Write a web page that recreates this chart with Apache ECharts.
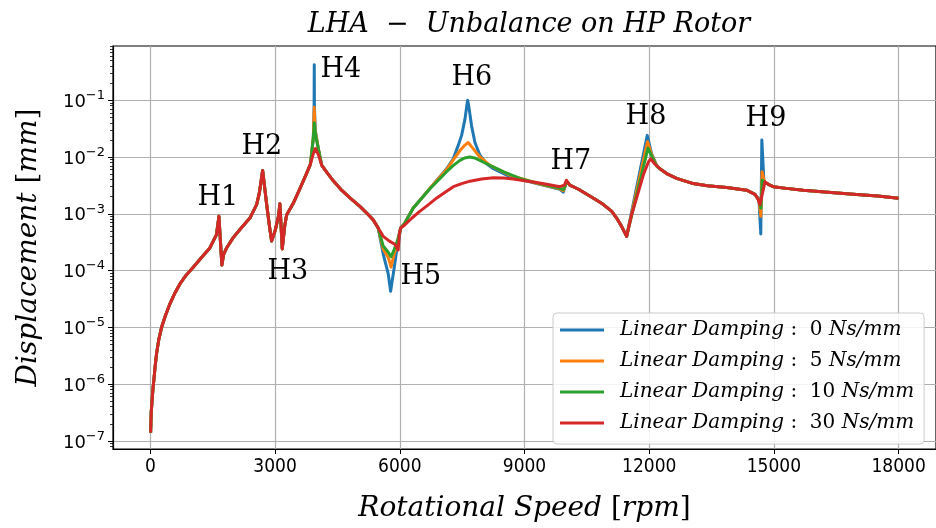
<!DOCTYPE html>
<html><head><meta charset="utf-8">
<script src="https://cdn.jsdelivr.net/npm/echarts@6/dist/echarts.min.js"></script>
<style>html,body{margin:0;padding:0;background:#fff}#c{width:936px;height:528px}</style>
</head><body><div id="c"></div>
<script>
// ---- data (rpm, mm) ----
const seriesNames = ['0', '5', '10', '30'];
const xTicks = [0, 3000, 6000, 9000, 12000, 15000, 18000];
const yTicks = [1e-7, 1e-6, 1e-5, 1e-4, 1e-3, 1e-2, 1e-1];

const startShared = [[5,1.4e-7],[20,3.2e-7],[43,5.5e-7],[62,8.3e-7],[84,1.2e-6],[112,2.0e-6],[149,3.5e-6],[200,6.0e-6],[269,1.0e-5],[360,1.6e-5],[469,2.6e-5],[580,3.9e-5],[710,5.8e-5],[860,8.3e-5],[1030,1.14e-4],[1230,1.7e-4],[1430,2.5e-4],[1590,4.3e-4],[1648,9.0e-4],[1720,1.25e-4],[1760,1.9e-4],[1833,2.5e-4],[1992,3.8e-4],[2200,5.8e-4],[2394,8.4e-4],[2555,1.45e-3],[2620,2.3e-3],[2700,5.8e-3],[2800,1.4e-3],[2870,5.6e-4],[2916,3.3e-4],[3000,5.0e-4],[3080,9.0e-4],[3116,1.5e-3],[3172,2.4e-4],[3230,6.0e-4],[3277,9.5e-4],[3450,1.6e-3],[3600,2.8e-3],[3750,5.0e-3],[3850,7.5e-3]];
const h4Blue   = [[3920,2.2e-2],[3938,0.08],[3942,0.42],[3946,0.08],[3965,3.0e-2],[4040,1.4e-2]];
const h4Orange = [[3920,2.2e-2],[3942,0.075],[3962,3.0e-2],[4040,1.4e-2]];
const h4Green  = [[3915,2.0e-2],[3945,0.04],[3975,2.4e-2],[4040,1.4e-2]];
const h4Red    = [[3920,1.15e-2],[3970,1.4e-2],[4040,1.1e-2]];
const fallShared = [[4120,7.2e-3],[4240,5.4e-3],[4400,3.8e-3],[4600,2.6e-3],[4800,1.9e-3],[5040,1.35e-3],[5250,9.5e-4],[5360,7.8e-4],[5480,5.6e-4]];
const h5Blue   = [[5601,1.95e-4],[5722,8.7e-5],[5779,4.3e-5],[5855,1.0e-4],[5923,2.2e-4],[5987,3.8e-4],[6020,5.6e-4],[6100,6.5e-4],[6320,1.25e-3]];
const h5Orange = [[5601,2.37e-4],[5722,1.7e-4],[5790,1.15e-4],[5860,1.9e-4],[5940,3.0e-4],[6020,5.6e-4],[6100,6.5e-4],[6320,1.25e-3]];
const h5Green  = [[5601,2.7e-4],[5722,2.1e-4],[5790,1.75e-4],[5860,2.3e-4],[5940,3.3e-4],[6020,5.6e-4],[6100,6.5e-4],[6320,1.25e-3]];
const h5Red    = [[5601,4.0e-4],[5750,3.3e-4],[5880,2.9e-4],[5962,2.3e-4],[5990,4.5e-4],[6020,5.6e-4],[6100,6.2e-4],[6300,8.5e-4]];
const h6Blue   = [[6725,2.8e-3],[7126,6.2e-3],[7286,9.3e-3],[7406,1.6e-2],[7487,2.4e-2],[7567,4.6e-2],[7605,7.4e-2],[7632,0.1],[7664,7.4e-2],[7728,3.5e-2],[7808,1.8e-2],[7928,1.07e-2],[8089,7.6e-3],[8250,6.2e-3],[8650,4.5e-3],[9290,3.4e-3],[9850,2.7e-3],[9933,2.4e-3],[10000,3.4e-3]];
const h6Orange = [[6725,2.8e-3],[7126,6.0e-3],[7290,9.0e-3],[7447,1.3e-2],[7551,1.58e-2],[7646,1.8e-2],[7768,1.39e-2],[7928,1.0e-2],[8169,7.1e-3],[8650,4.8e-3],[9290,3.45e-3],[9850,2.75e-3],[9933,2.55e-3],[10000,3.4e-3]];
const h6Green  = [[6725,2.75e-3],[7126,5.5e-3],[7290,7.1e-3],[7447,8.7e-3],[7560,9.6e-3],[7687,1.0e-2],[7800,9.6e-3],[7928,8.7e-3],[8089,7.6e-3],[8488,5.5e-3],[8890,4.2e-3],[9290,3.5e-3],[9850,2.8e-3],[9933,2.65e-3],[10000,3.4e-3]];
const h6Red    = [[6480,1.1e-3],[6690,1.45e-3],[6890,1.9e-3],[7090,2.4e-3],[7290,3.0e-3],[7490,3.4e-3],[7690,3.75e-3],[7970,4.1e-3],[8250,4.3e-3],[8500,4.25e-3],[8730,4.1e-3],[9000,3.8e-3],[9290,3.55e-3],[9600,3.25e-3],[9850,3.0e-3],[9960,3.2e-3],[10010,3.9e-3]];
const midShared = [[10050,3.5e-3],[10090,3.2e-3],[10300,2.7e-3],[10500,2.2e-3],[10700,1.8e-3],[10900,1.45e-3],[11100,1.1e-3],[11216,8.4e-4],[11336,6.0e-4],[11457,4.0e-4]];
const h8Blue   = [[11953,2.4e-2],[12058,1.14e-2],[12179,7.1e-3],[12258,6.2e-3]];
const h8Orange = [[11960,1.86e-2],[12060,1.1e-2],[12179,7.0e-3],[12258,6.2e-3]];
const h8Green  = [[11970,1.43e-2],[12070,1.0e-2],[12179,6.9e-3],[12258,6.2e-3]];
const h8Red    = [[11577,9.6e-4],[11698,1.9e-3],[11858,4.8e-3],[11978,8.1e-3],[12034,9.3e-3],[12130,7.6e-3],[12258,6.2e-3]];
const lateShared = [[12419,5.1e-3],[12660,4.2e-3],[13060,3.4e-3],[13400,3.1e-3],[13863,2.9e-3],[14344,2.6e-3],[14545,2.2e-3]];
const h9Blue   = [[14640,1.8e-3],[14685,4.4e-4],[14710,2.0e-2],[14760,3.7e-3]];
const h9Orange = [[14640,1.75e-3],[14685,9.0e-4],[14715,5.5e-3],[14770,3.7e-3]];
const h9Green  = [[14640,1.7e-3],[14685,1.26e-3],[14720,3.9e-3],[14775,3.6e-3]];
const h9Red    = [[14620,1.8e-3],[14665,1.45e-3],[14785,3.65e-3]];
const endShared = [[14865,3.3e-3],[14985,3.0e-3],[15300,2.8e-3],[15707,2.6e-3],[16300,2.4e-3],[16910,2.2e-3],[17500,2.05e-3],[18000,1.88e-3]];

const dBlue   = [...startShared, ...h4Blue,   ...fallShared, ...h5Blue,   ...h6Blue,   ...midShared, ...h8Blue,   ...lateShared, ...h9Blue,   ...endShared];
const dOrange = [...startShared, ...h4Orange, ...fallShared, ...h5Orange, ...h6Orange, ...midShared, ...h8Orange, ...lateShared, ...h9Orange, ...endShared];
const dGreen  = [...startShared, ...h4Green,  ...fallShared, ...h5Green,  ...h6Green,  ...midShared, ...h8Green,  ...lateShared, ...h9Green,  ...endShared];
const dRed    = [...startShared, ...h4Red,    ...fallShared, ...h5Red,    ...h6Red,    ...midShared, ...h8Red,    ...lateShared, ...h9Red,    ...endShared];

const annNames = ['H1','H2','H3','H4','H5','H6','H7','H8','H9'];
const annPos = [[1624,1.9e-3],[2683,1.5e-2],[3308,9.3e-5],[4583,0.342],[6508,7.6e-5],[7735,0.248],[10117,8.3e-3],[11922,0.05],[14809,0.046]];

// minor tick positions for the log axis (2..9 x 10^n)
const minorTicks = [];
for (let e = -8; e <= -1; e++) for (let k = 2; k <= 9; k++) minorTicks.push(k * Math.pow(10, e));

const colors = ['#1f77b4', '#ff7f0e', '#2ca02c', '#d62728'];
const serif = "'DejaVu Serif', serif";
const sans = "'DejaVu Sans', sans-serif";
const cond = "'Liberation Sans Narrow', 'DejaVu Sans Condensed', 'DejaVu Sans', sans-serif";

const chart = echarts.init(document.getElementById('c'), null, {renderer: 'canvas'});
const datas = [dBlue, dOrange, dGreen, dRed];
const series = datas.map((d, i) => ({
  name: seriesNames[i], type: 'line', data: d, showSymbol: false, symbol: 'none',
  lineStyle: {width: 3, color: colors[i], join: 'round'}, itemStyle: {color: colors[i]},
  clip: true, animation: false, z: 2 + i
}));
series.push({
  type: 'scatter', symbolSize: 0, silent: true, z: 10,
  data: annNames.map((n, i) => ({name: n, value: annPos[i]})),
  itemStyle: {color: '#000', opacity: 1},
  label: {show: true, position: 'inside', formatter: p => p.name, color: '#000', opacity: 1,
    textBorderWidth: 0, fontFamily: serif, fontSize: 27}
});

const italic = (sz) => ({fontFamily: serif, fontStyle: 'italic', fontWeight: 'normal', fontSize: sz, color: '#000'});
const upright = (sz) => ({fontFamily: serif, fontStyle: 'normal', fontWeight: 'normal', fontSize: sz, color: '#000'});

chart.setOption({
  animation: false,
  title: {
    text: '{i|LHA}{n|  −  }{i|Unbalance on HP Rotor}', left: 524, top: 6, textAlign: 'center',
    textStyle: {fontWeight: 'normal', rich: {i: italic(27), n: upright(27)}}
  },
  legend: {
    data: seriesNames, orient: 'vertical', left: 553, top: 313, icon: 'rect', itemWidth: 44, itemHeight: 3,
    itemGap: 11, padding: [7, 10, 11, 7], backgroundColor: 'rgba(255,255,255,0.85)', borderColor: '#cccccc',
    borderWidth: 1, borderRadius: 4,
    formatter: n => '{g|}{i|Linear Damping}{n| :  ' + n + ' }{i|Ns/mm}',
    textStyle: {lineHeight: 20, rich: {
      g: {width: 11},
      i: Object.assign(italic(20), {lineHeight: 20}),
      n: Object.assign(upright(20), {lineHeight: 20})
    }}
  },
  grid: {left: 113, right: 0, top: 46, bottom: 74, show: true, borderColor: '#000', borderWidth: 1.2, backgroundColor: 'transparent'},
  xAxis: {
    type: 'value', min: -900, max: 18900,
    name: '{i|Rotational Speed }{n|[}{i|rpm}{n|]}', nameLocation: 'middle', nameGap: 46,
    nameTextStyle: {rich: {i: italic(28), n: upright(28)}},
    axisLine: {show: true, onZero: false, lineStyle: {color: '#000', width: 1.2}},
    axisTick: {show: true, customValues: xTicks, length: 5, lineStyle: {color: '#000', width: 1}},
    axisLabel: {customValues: xTicks, formatter: v => String(v), color: '#000', fontFamily: cond, fontSize: 19, margin: 9},
    splitLine: {show: true, lineStyle: {color: '#b0b0b0', width: 1.2}}
  },
  yAxis: [{
    type: 'log', logBase: 10, min: 7.2e-8, max: 0.9,
    name: '{i|Displacement }{n|[}{i|mm}{n|]}', nameLocation: 'middle', nameGap: 70, nameRotate: 90,
    nameTextStyle: {rich: {i: italic(28), n: upright(28)}},
    axisLine: {show: true, onZero: false, lineStyle: {color: '#000', width: 1.2}},
    axisTick: {show: true, customValues: yTicks, length: 5, lineStyle: {color: '#000', width: 1}},
    axisLabel: {customValues: yTicks, margin: 8, formatter: v => '{b|10}{s|−' + Math.round(-Math.log10(v)) + '}',
      rich: {b: {fontFamily: sans, fontSize: 18, color: '#000', lineHeight: 22, verticalAlign: 'bottom'},
             s: {fontFamily: sans, fontSize: 13, color: '#000', lineHeight: 22, verticalAlign: 'top', padding: [0,0,8,0]}}},
    splitLine: {show: true, lineStyle: {color: '#b0b0b0', width: 1.2}}
  }, {
    type: 'log', logBase: 10, min: 7.2e-8, max: 0.9, position: 'left',
    axisLine: {show: false, onZero: false}, axisLabel: {show: false}, splitLine: {show: false},
    axisTick: {show: true, customValues: minorTicks, length: 3, lineStyle: {color: '#000', width: 0.8}}
  }],
  series: series
});
</script></body></html>
